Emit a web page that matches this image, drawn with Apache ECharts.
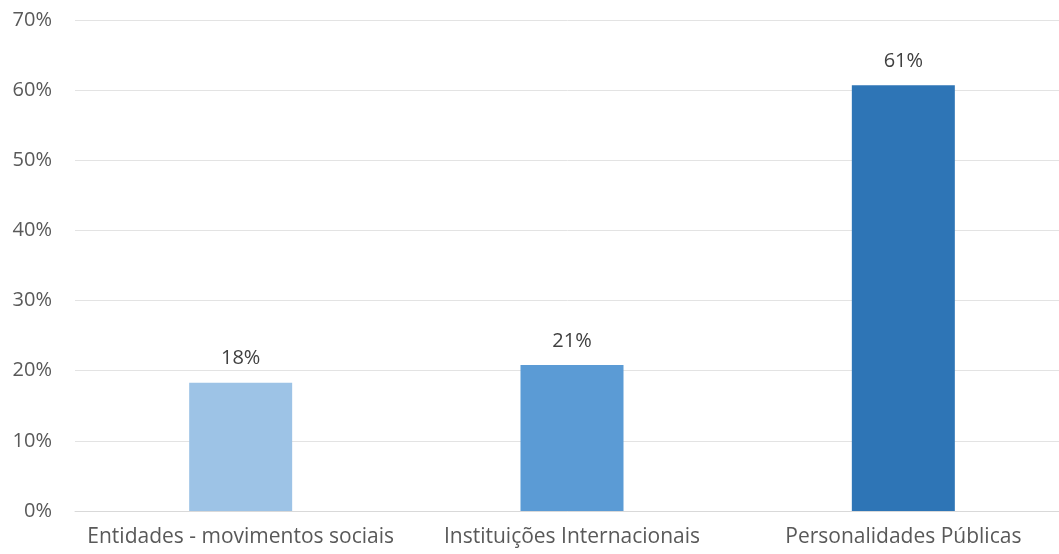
<!DOCTYPE html>
<html>
<head>
<meta charset="utf-8">
<script src="https://cdn.jsdelivr.net/npm/echarts@6/dist/echarts.min.js"></script>
<style>
html,body{margin:0;padding:0;background:#fff;}
#chart{width:1059px;height:554px;}
</style>
</head>
<body>
<div id="chart"></div>
<script>
const categories = ['Entidades - movimentos sociais', 'Instituições Internacionais', 'Personalidades Públicas'];
const values = [18.3, 20.8, 60.7];
const barColors = ['#9DC3E6', '#5B9BD5', '#2E75B6'];

const chart = echarts.init(document.getElementById('chart'));
chart.setOption({
  animation: false,
  grid: { left: 75, width: 994, top: 20, bottom: 43, containLabel: false, outerBoundsMode: 'none' },
  xAxis: {
    type: 'category',
    data: categories,
    axisLine: { show: true, lineStyle: { color: '#D9D9D9', width: 1 } },
    axisTick: { show: false },
    axisLabel: { color: '#595959', fontSize: 21, fontFamily: 'Open Sans', margin: 16, interval: 0, hideOverlap: false }
  },
  yAxis: {
    type: 'value',
    min: 0, max: 70, interval: 10,
    axisLabel: { color: '#595959', fontSize: 20, fontFamily: 'Open Sans', margin: 23, formatter: '{value}%' },
    splitLine: { lineStyle: { color: '#E3E3E3', width: 1 } },
    axisLine: { show: false },
    axisTick: { show: false }
  },
  series: [{
    type: 'bar',
    barWidth: 103,
    data: values.map((v, i) => ({ value: v, itemStyle: { color: barColors[i] } })),
    label: {
      show: true, position: 'top', distance: 14,
      color: '#404040', fontSize: 20, fontFamily: 'Open Sans',
      formatter: p => Math.round(p.value) + '%'
    }
  }]
});
</script>
</body>
</html>
